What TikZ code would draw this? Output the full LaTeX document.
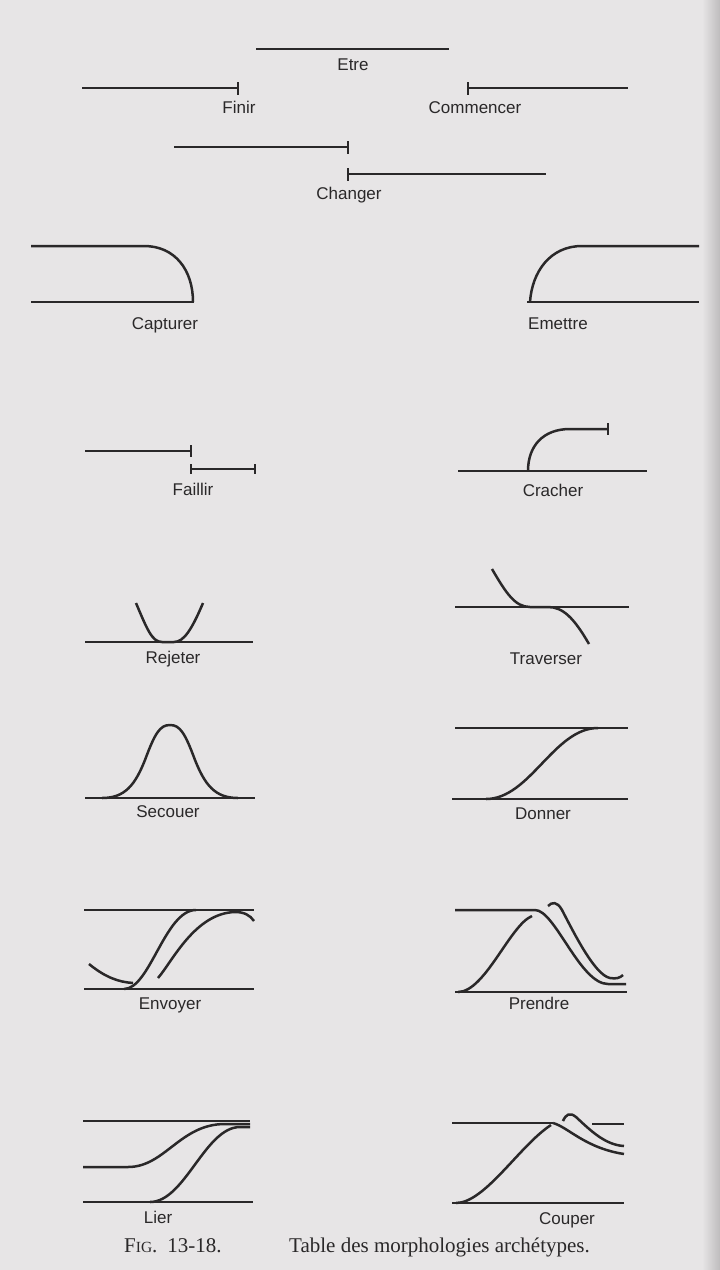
\documentclass[tikz,border=0pt]{standalone}
\usepackage{fontspec}
\setmainfont{Liberation Serif}
\setsansfont{Liberation Sans}
\definecolor{page}{RGB}{231,229,230}
\definecolor{pageedge}{RGB}{190,188,189}
\definecolor{ink}{RGB}{42,40,41}
\begin{document}
\begin{tikzpicture}[x=1pt,y=-1pt,
  ln/.style={draw=ink,line width=2.5pt},
  tk/.style={draw=ink,line width=2pt},
  lab/.style={font=\sffamily\fontsize{17}{19}\selectfont,text=ink,anchor=base,inner sep=0pt},
  capt/.style={font=\rmfamily\fontsize{21}{23}\selectfont,text=ink,anchor=base west,inner sep=0pt}]
\fill[page] (0,0) rectangle (720,1270);
\useasboundingbox (0,0) rectangle (720,1270);
\shade[left color=page,right color=pageedge] (702,0) rectangle (720,1270);

% ---------- Etre / Finir / Commencer / Changer
\draw[ln] (256,49) -- (449,49);
\node[lab] (etre) at (353,70) {Etre};
\draw[ln] (82,88) -- (238,88);
\draw[tk] (238,82) -- (238,95);
\node[lab] (finir) at (239,113) {Finir};
\draw[tk] (468,82) -- (468,95);
\draw[ln] (468,88) -- (628,88);
\node[lab] (commencer) at (475,113) {Commencer};
\draw[ln] (174,147) -- (348,147);
\draw[tk] (348,141) -- (348,154);
\draw[ln] (348,174) -- (546,174);
\draw[tk] (348,168) -- (348,181);
\node[lab] (changer) at (349,199) {Changer};

% ---------- Capturer / Emettre
\draw[ln] (31,246) -- (144,246) .. controls (175,246) and (193,270) .. (193,302);
\draw[ln] (31,302) -- (194,302);
\node[lab] (capturer) at (165,329) {Capturer};
\draw[ln] (527,302) -- (699,302);
\draw[ln] (530,302) .. controls (532,272) and (550,246) .. (582,246) -- (699,246);
\node[lab] (emettre) at (558,329) {Emettre};

% ---------- Faillir / Cracher
\draw[ln] (85,451) -- (191,451);
\draw[tk] (191,445) -- (191,457);
\draw[ln] (191,469) -- (255,469);
\draw[tk] (191,464) -- (191,474);
\draw[tk] (255,464) -- (255,474);
\node[lab] (faillir) at (193,495) {Faillir};
\draw[ln] (458,471) -- (647,471);
\draw[ln] (528,471) .. controls (528,446) and (543,429) .. (570,429) -- (608,429);
\draw[tk] (608,423) -- (608,435);
\node[lab] (cracher) at (553,496) {Cracher};

% ---------- Rejeter / Traverser
\draw[ln] (85,642) -- (253,642);
\draw[ln] (136,603) .. controls (147,629) and (152,642) .. (162,642) -- (174,642)
          .. controls (184,642) and (192,629) .. (203,603);
\node[lab] (rejeter) at (173,663) {Rejeter};
\draw[ln] (455,607) -- (629,607);
\draw[ln] (492,569) .. controls (506,593) and (515,607) .. (530,607) -- (548,607)
          .. controls (563,607) and (574,618) .. (589,644);
\node[lab] (traverser) at (546,664) {Traverser};

% ---------- Secouer / Donner
\draw[ln] (85,798) -- (255,798);
\draw[ln] (102,798) .. controls (125,798) and (135,785) .. (145,760)
          .. controls (155,733) and (160,725) .. (170,725)
          .. controls (180,725) and (185,733) .. (195,760)
          .. controls (205,785) and (215,798) .. (238,798);
\node[lab] (secouer) at (168,817) {Secouer};
\draw[ln] (455,728) -- (628,728);
\draw[ln] (452,799) -- (628,799);
\draw[ln] (486,799) .. controls (530,799) and (554,728) .. (598,728);
\node[lab] (donner) at (543,819) {Donner};

% ---------- Envoyer / Prendre
\draw[ln] (84,910) -- (254,910);
\draw[ln] (84,989) -- (254,989);
\draw[ln] (89,964) .. controls (105,977) and (118,982) .. (133,983);
\draw[ln] (124,989) .. controls (150,989) and (165,910) .. (196,910);
\draw[ln] (158,978) .. controls (172,962) and (195,913) .. (235,912)
          .. controls (244,912) and (250,915) .. (254,921);
\node[lab] (envoyer) at (170,1009) {Envoyer};
\draw[ln] (455,992) -- (627,992);
\draw[ln] (455,910) -- (535,910) .. controls (555,910) and (580,984) .. (608,984) -- (626,984);
\draw[ln] (548,906) .. controls (552,902) and (557,901) .. (562,910)
          .. controls (575,935) and (595,975) .. (610,978)
          .. controls (616,979) and (620,978) .. (623,975);
\draw[ln] (458,992) .. controls (485,992) and (510,925) .. (532,916);
\node[lab] (prendre) at (539,1009) {Prendre};

% ---------- Lier / Couper
\draw[ln] (83,1121) -- (250,1121);
\draw[ln] (83,1167) -- (128,1167) .. controls (165,1167) and (180,1124) .. (225,1124) -- (250,1124);
\draw[ln] (83,1202) -- (253,1202);
\draw[ln] (150,1202) .. controls (185,1202) and (205,1127) .. (240,1127) -- (250,1127);
\node[lab] (lier) at (158,1223) {Lier};
\draw[ln] (452,1123) -- (553,1123);
\draw[ln] (452,1203) -- (624,1203);
\draw[ln] (456,1203) .. controls (485,1203) and (520,1145) .. (551,1125);
\draw[ln] (553,1123) .. controls (568,1127) and (585,1148) .. (624,1154);
\draw[ln] (563,1121) .. controls (566,1114) and (570,1112) .. (576,1117)
          .. controls (590,1130) and (605,1145) .. (624,1146);
\draw[ln] (592,1124) -- (624,1124);
\node[lab] (couper) at (567,1224) {Couper};

% ---------- caption
\node[capt] (fig) at (124,1252) {F{\fontsize{15.5}{17}\selectfont IG}.\hspace{10pt}13-18.};
\node[capt] (title) at (289,1252) {Table des morphologies archétypes.};
\end{tikzpicture}
\end{document}
